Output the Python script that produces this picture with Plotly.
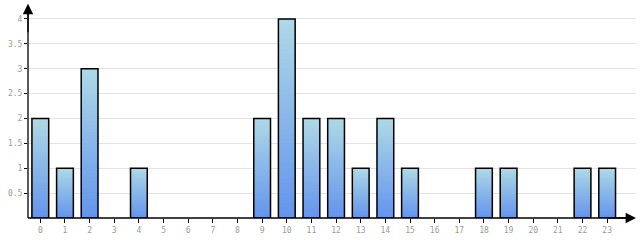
import plotly.graph_objects as go

categories = [str(i) for i in range(24)]
values = [2, 1, 3, 0, 1, 0, 0, 0, 0, 2, 4, 2, 2, 1, 2, 1, 0, 0, 1, 1, 0, 0, 1, 1]
y_ticks = [0.5, 1, 1.5, 2, 2.5, 3, 3.5, 4]

top_rgb = (173, 216, 230)
bot_rgb = (100, 149, 237)
N = 40
BAR_W = 0.68

fig = go.Figure()
xs = list(range(len(categories)))
# gradient: nested bars from full height down, each drawn over the previous
for k in range(N):
    t = 1 - k / (N - 1)
    c = tuple(round(bot_rgb[i] + (top_rgb[i] - bot_rgb[i]) * t) for i in range(3))
    fig.add_trace(go.Bar(
        x=xs, y=[v * (N - k) / N for v in values],
        width=BAR_W, marker=dict(color="rgb(%d,%d,%d)" % c, line=dict(width=0)),
        hoverinfo="skip", showlegend=False))
fig.add_trace(go.Bar(
    x=xs, y=[v if v else None for v in values], width=BAR_W,
    marker=dict(color="rgba(0,0,0,0)", line=dict(color="black", width=1.5)),
    showlegend=False))

tickfont = dict(family="DejaVu Sans Mono", size=8, color="#9a9a9a")
fig.update_layout(
    width=640, height=240, barmode="overlay",
    margin=dict(l=28, r=4, t=10, b=22),
    plot_bgcolor="white", paper_bgcolor="white",
    xaxis=dict(range=[-0.5, 24.17], tickvals=xs, ticktext=categories,
               showgrid=False, zeroline=False, showline=False,
               ticks="outside", ticklen=4, tickcolor="black", tickwidth=1,
               tickfont=tickfont),
    yaxis=dict(range=[0, 4.18], tickvals=y_ticks, ticktext=[("%g" % v) for v in y_ticks],
               showgrid=True, gridcolor="#e3e3e3", gridwidth=1, zeroline=False,
               showline=False, ticks="outside", ticklen=3, tickcolor="black",
               tickwidth=1, tickfont=tickfont),
)
# axis lines with arrowheads
fig.add_shape(type="line", xref="paper", yref="paper", x0=0, x1=0, y0=0, y1=1.0,
              line=dict(color="black", width=1.3))
fig.add_shape(type="line", xref="paper", yref="paper", x0=0, x1=0.99, y0=0, y1=0,
              line=dict(color="black", width=1.3))
fig.add_annotation(xref="paper", yref="paper", x=0, y=1.03, ax=0, ay=30,
                   text="", showarrow=True,
                   arrowhead=2, arrowsize=1.6, arrowwidth=1.3, arrowcolor="black",
                   standoff=0)
fig.add_annotation(xref="paper", yref="paper", x=1.0, y=0, ax=-30, ay=0,
                   text="", showarrow=True,
                   arrowhead=2, arrowsize=1.6, arrowwidth=1.3, arrowcolor="black",
                   standoff=0)
fig.write_html("out.html")
